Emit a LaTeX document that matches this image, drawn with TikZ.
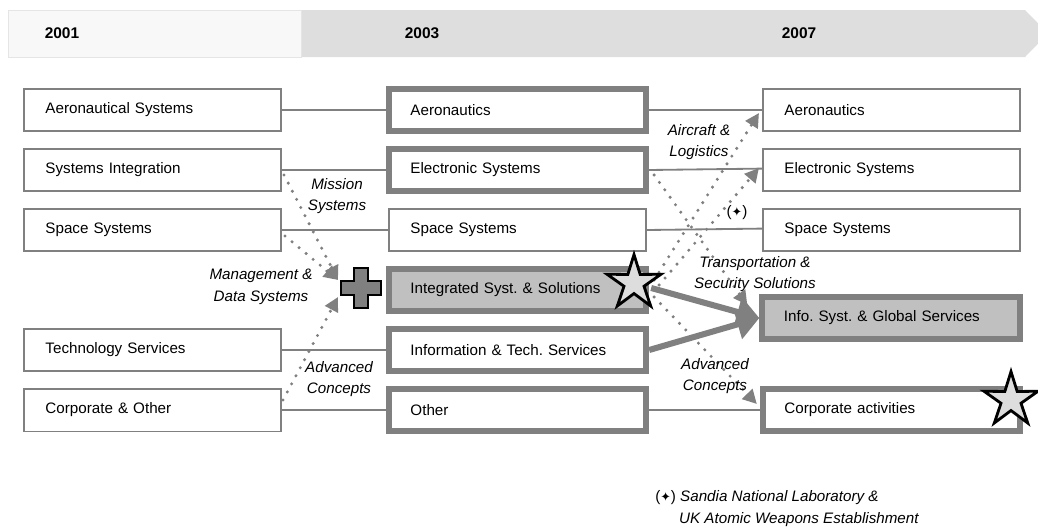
\documentclass[tikz,border=0pt]{standalone}
\usepackage{fontspec}
\setmainfont{Liberation Sans}
\newfontfamily\symfont{DejaVu Sans}
\usetikzlibrary{arrows.meta,shapes.geometric}
\frenchspacing

\definecolor{linegray}{RGB}{128,128,128}
\definecolor{fillgray}{RGB}{192,192,192}
\definecolor{bandgray}{RGB}{222,222,222}
\definecolor{bandlight}{RGB}{248,248,248}
\definecolor{stargray}{RGB}{221,221,221}

\begin{document}
\begin{tikzpicture}[
  x=0.025cm, y=-0.025cm,
  font=\fontsize{10.8}{15.5}\selectfont,
  box/.style={draw=linegray, line width=1.3pt, fill=white,
              minimum width=6.43cm, minimum height=1.07cm,
              text width=5.35cm, inner xsep=0.54cm, inner ysep=0pt,
              align=left},
  tbox/.style={box, line width=4.3pt},
  gbox/.style={tbox, fill=fillgray},
  year/.style={font=\fontsize{11}{13}\selectfont\bfseries},
  link/.style={linegray, line width=1.3pt},
  dotarr/.style={linegray, line width=2.4pt, line cap=round,
                 dash pattern=on 0pt off 6.5pt,
                 -{Triangle[length=10pt,width=10pt]}},
  bigarr/.style={linegray, line width=4.3pt,
                 -{Triangle[length=16pt,width=21pt]}},
  lbl/.style={font=\fontsize{10.8}{15.5}\selectfont\itshape,
              align=center, inner sep=0pt},
  starmark/.style={star, star points=5, star point ratio=2.7,
                   minimum size=1.42cm, inner sep=0pt,
                   draw=black, line width=2pt, fill=stargray}
]
\useasboundingbox (0,0) rectangle (1038,527);

%% Timeline band
\fill[bandgray] (301,10) -- (1025,10) -- (1048,33.5) -- (1025,57) -- (301,57) -- cycle;
\filldraw[fill=bandlight, draw=black!10] (8,10) rectangle (301,57);
\node[year] (y2001) at (62,33)  {2001};
\node[year] (y2003) at (422,33) {2003};
\node[year] (y2007) at (799,33) {2007};

%% 2001 divisions
\node[box] (aero1)  at (152.5,110) {Aeronautical Systems};
\node[box] (sysint) at (152.5,170) {Systems Integration};
\node[box] (space1) at (152.5,230) {Space Systems};
\node[box] (tech1)  at (152.5,350) {Technology Services};
\node[box] (corp1)  at (152.5,410) {Corporate \& Other};

%% 2003 divisions
\node[tbox] (aero2)  at (517.5,110) {Aeronautics};
\node[tbox] (elec2)  at (517.5,170) {Electronic Systems};
\node[box]  (space2) at (517.5,230) {Space Systems};
\node[gbox] (isol)   at (517.5,290) {Integrated Syst. \& Solutions};
\node[tbox] (its2)   at (517.5,350) {Information \& Tech. Services};
\node[tbox] (other2) at (517.5,410) {Other};

%% 2007 divisions
\node[box]  (aero3)   at (891.5,110) {Aeronautics};
\node[box]  (elec3)   at (891.5,170) {Electronic Systems};
\node[box]  (space3)  at (891.5,230) {Space Systems};
\node[gbox] (infosys) at (891,318)   {Info. Syst. \& Global Services};
\node[tbox] (corpact) at (891.5,410) {Corporate activities};

%% 2001 -> 2003
\draw[link] (aero1.east)  -- (aero2.west);
\draw[link] (sysint.east) -- (elec2.west);
\draw[link] (space1.east) -- (space2.west);
\draw[link] (tech1.east)  -- (its2.west);
\draw[link] (corp1.east)  -- (other2.west);

%% 2003 -> 2007
\draw[link] (aero2.east)  -- (aero3.west);
\draw[link] (elec2.east)  -- ([yshift=1pt]elec3.west);
\draw[link] (space2.east) -- ([yshift=1pt]space3.west);
\draw[link] (other2.east) -- (corpact.west);
\draw[bigarr] ([shift={(2,-2)}]isol.east) -- (infosys.west);
\draw[bigarr] (its2.east) -- (infosys.west);

%% Merged into Integrated Syst. & Solutions
\coordinate (plus) at (361,288);
\draw[dotarr] ([shift={(2,5)}]sysint.east) -- ([shift={(-23,-8)}]plus);
\draw[dotarr] ([shift={(3,6)}]space1.east) -- ([shift={(-23,-8)}]plus);
\draw[dotarr] ([shift={(1,-10)}]corp1.east) -- ([shift={(-23,9)}]plus);
\node[lbl] (lmission) at (337,196) {Mission\\Systems};
\node[lbl] (lmgmt)    at (261,287) {Management \&\\Data Systems};
\node[lbl] (ladv1)    at (339,379) {Advanced\\Concepts};

%% Split of Integrated Syst. & Solutions
\draw[dotarr] ([shift={(5,-10)}]isol.east) -- ([shift={(-3,3)}]aero3.west);
\draw[dotarr] ([shift={(10,-5)}]isol.east) -- ([shift={(-3,-2)}]elec3.west);
\draw[dotarr] ([shift={(5,5)}]elec2.east)  -- ([shift={(-12,-13)}]infosys.west);
\draw[dotarr] ([shift={(5,7)}]isol.east)   -- ([shift={(-3,-6)}]corpact.west);
\node[lbl] (lair)   at (699,142) {Aircraft \&\\Logistics};
\node[lbl, font=\fontsize{10.8}{13}\selectfont] (lsandia) at (737,213) {({\symfont\small ✦})};
\node[lbl] (ltrans) at (755,274) {Transportation \&\\Security Solutions};
\node[lbl] (ladv2)  at (715,376) {Advanced\\Concepts};

%% Plus and stars
\draw[fill=linegray, draw=black, line width=1.5pt] (plus) ++(-7,-20) -- ++(14,0) -- ++(0,13)
  -- ++(13,0) -- ++(0,14) -- ++(-13,0) -- ++(0,13) -- ++(-14,0) -- ++(0,-13)
  -- ++(-13,0) -- ++(0,-14) -- ++(13,0) -- cycle;
\node[starmark] (star1) at (634,283) {};
\node[starmark] (star2) at (1011,400) {};

%% Footnote
\node[anchor=north west, align=left, inner sep=0pt] (note) at (655,490)
  {({\symfont\small ✦}) \textit{Sandia National Laboratory \&}\\
   \hspace*{17pt}\textit{UK Atomic Weapons Establishment}};

\end{tikzpicture}
\end{document}
